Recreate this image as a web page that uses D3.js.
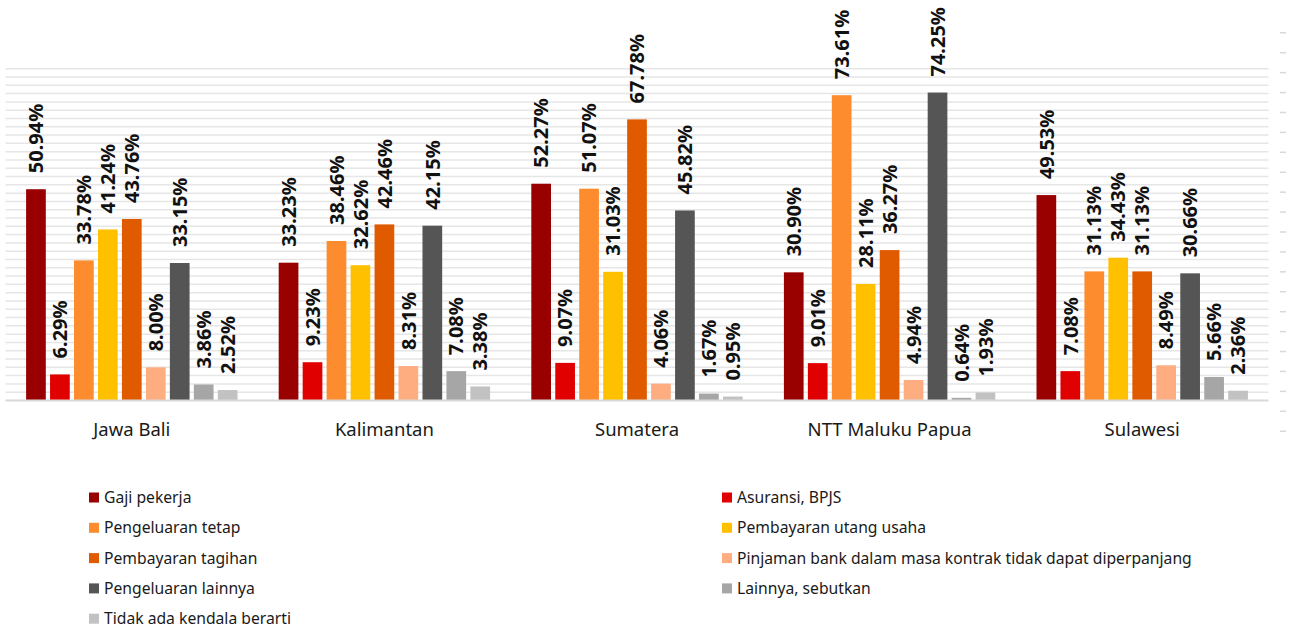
<!DOCTYPE html>
<html>
<head>
<meta charset="utf-8">
<script src="https://cdn.jsdelivr.net/npm/d3@7"></script>
<style>
  html, body { margin: 0; padding: 0; background: #fff; }
  svg { display: block; }
  .cat { font-family: "Noto Sans", sans-serif; font-size: 18.5px; fill: #1a1a1a; }
  .val { font-family: "Noto Sans", sans-serif; font-size: 20px; font-weight: bold; fill: #111; }
  .leg { font-family: "Noto Sans", sans-serif; font-size: 15.7px; fill: #1a1a1a; }
</style>
</head>
<body>
<svg id="chart" width="1290" height="629"></svg>
<script>
// Regions (x categories)
const regions = ["Jawa Bali", "Kalimantan", "Sumatera", "NTT Maluku Papua", "Sulawesi"];

// Series names, in drawing order
const seriesNames = [
  "Gaji pekerja",
  "Asuransi, BPJS",
  "Pengeluaran tetap",
  "Pembayaran utang usaha",
  "Pembayaran tagihan",
  "Pinjaman bank dalam masa kontrak tidak dapat diperpanjang",
  "Pengeluaran lainnya",
  "Lainnya, sebutkan",
  "Tidak ada kendala berarti"
];

// Percent values per series, one per region
const gajiPekerja        = [50.94, 33.23, 52.27, 30.90, 49.53];
const asuransiBpjs       = [6.29, 9.23, 9.07, 9.01, 7.08];
const pengeluaranTetap   = [33.78, 38.46, 51.07, 73.61, 31.13];
const pembayaranUtang    = [41.24, 32.62, 31.03, 28.11, 34.43];
const pembayaranTagihan  = [43.76, 42.46, 67.78, 36.27, 31.13];
const pinjamanBank       = [8.00, 8.31, 4.06, 4.94, 8.49];
const pengeluaranLainnya = [33.15, 42.15, 45.82, 74.25, 30.66];
const lainnyaSebutkan    = [3.86, 7.08, 1.67, 0.64, 5.66];
const tidakAdaKendala    = [2.52, 3.38, 0.95, 1.93, 2.36];

const seriesValues = [
  gajiPekerja, asuransiBpjs, pengeluaranTetap, pembayaranUtang,
  pembayaranTagihan, pinjamanBank, pengeluaranLainnya, lainnyaSebutkan, tidakAdaKendala
];

const colors = ["#990000", "#e00000", "#fd8c2e", "#ffc000", "#e05a00",
                "#fdad80", "#555555", "#a6a6a6", "#c2c2c2"];

const svg = d3.select("#chart");

const plotLeft = 5.5, plotRight = 1268.5;
const y = d3.scaleLinear().domain([0, 80]).range([400.5, 68.7]);

const x0 = d3.scaleBand().domain(regions).range([plotLeft, plotRight]).paddingInner(0).paddingOuter(0);
const x1 = d3.scaleBand().domain(seriesNames).range([20.6, 232.0]).paddingInner(0.178).paddingOuter(0);

const color = d3.scaleOrdinal().domain(seriesNames).range(colors);

// Horizontal gridlines every 2%
svg.append("g")
  .selectAll("line")
  .data(d3.range(2, 81, 2))
  .join("line")
  .attr("x1", plotLeft).attr("x2", plotRight)
  .attr("y1", d => y(d)).attr("y2", d => y(d))
  .attr("stroke", "#e6e6e6")
  .attr("stroke-width", 1.5);

// Faint tick marks on the right edge
const yRight = d3.scaleLinear().domain([0, 20]).range([430.7, 32.3]);
svg.append("g")
  .attr("transform", "translate(1280,0)")
  .call(d3.axisRight(yRight).ticks(20).tickSize(6).tickFormat(""))
  .call(g => g.select(".domain").remove())
  .call(g => g.selectAll(".tick line").attr("stroke", "#d9d9d9").attr("stroke-width", 1.5));

// Flatten rows for bars
const rows = [];
regions.forEach((r, ri) => {
  seriesNames.forEach((s, si) => {
    rows.push({ region: r, series: s, value: seriesValues[si][ri] });
  });
});

const groups = svg.append("g");

groups.selectAll("rect")
  .data(rows)
  .join("rect")
  .attr("x", d => x0(d.region) + x1(d.series))
  .attr("y", d => y(d.value))
  .attr("width", x1.bandwidth())
  .attr("height", d => y(0) - y(d.value))
  .attr("fill", d => color(d.series));

// Value labels, rotated
groups.selectAll("text.val")
  .data(rows)
  .join("text")
  .attr("class", "val")
  .attr("transform", d => {
    const cx = x0(d.region) + x1(d.series) + x1.bandwidth() / 2;
    const ty = y(d.value) - 16;
    return `translate(${cx},${ty}) rotate(-90)`;
  })
  .attr("text-anchor", "start")
  .attr("dy", "0.36em")
  .text(d => d.value.toFixed(2) + "%");

// Baseline
svg.append("line")
  .attr("x1", plotLeft).attr("x2", plotRight)
  .attr("y1", y(0)).attr("y2", y(0))
  .attr("stroke", "#d9d9d9")
  .attr("stroke-width", 2);

// Category axis labels
const xAxis = svg.append("g")
  .attr("transform", `translate(0,${y(0)})`)
  .call(d3.axisBottom(x0).tickSize(0).tickPadding(0));
xAxis.select(".domain").remove();
xAxis.attr("font-family", null).attr("font-size", null);
xAxis.selectAll(".tick text")
  .attr("class", "cat")
  .attr("y", 35)
  .attr("dy", 0);

// Legend: two columns, filled row by row
const legendCols = [89, 722];
const legendTop = 497.5, legendStep = 30.3;
const legend = svg.append("g")
  .selectAll("g")
  .data(seriesNames)
  .join("g")
  .attr("transform", (d, i) => `translate(${legendCols[i % 2]},${legendTop + Math.floor(i / 2) * legendStep})`);

legend.append("rect")
  .attr("x", 0).attr("y", -5)
  .attr("width", 10).attr("height", 10)
  .attr("fill", d => color(d));

legend.append("text")
  .attr("class", "leg")
  .attr("x", 15)
  .attr("dy", "0.35em")
  .text(d => d);
</script>
</body>
</html>
